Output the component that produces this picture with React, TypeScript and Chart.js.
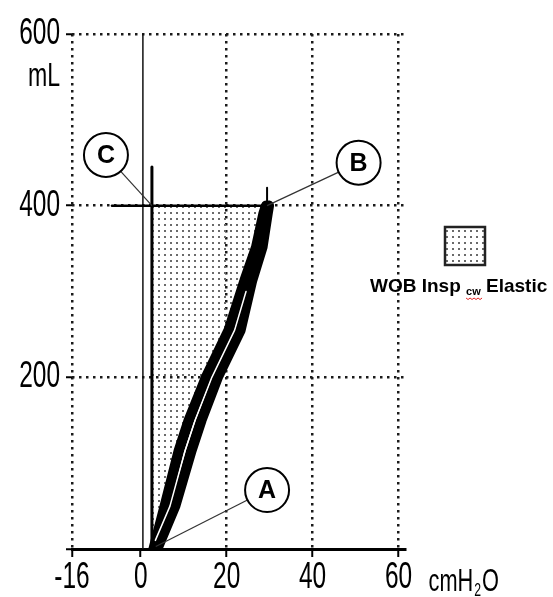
import React, { useEffect, useRef } from 'react';
import { Chart, registerables } from 'chart.js';

Chart.register(...registerables);

// ---------- data ----------
const xTicks = [-16, 0, 20, 40, 60];
const yTicks = [0, 200, 400, 600];
const xUnitMain = 'cmH';
const xUnitSub = '2';
const xUnitEnd = 'O';
const yUnit = 'mL';

// volume levels (mL) of the pressure-volume loop
const loopVolumes = [0, 50, 115, 150, 200, 255, 313, 352, 391, 400];
// pressure (cmH2O) of the left (inspiratory) limb
const inspLimbP = [3, 5.6, 8.9, 11.2, 15.2, 20.5, 24.2, 26.9, 28.6, 29.2];
// pressure (cmH2O) of the right (expiratory) limb
const expLimbP = [3.8, 8.0, 11.8, 14.1, 17.9, 23.2, 25.9, 28.3, 29.5, 29.8];
// thin white separation between the limbs
const gapVolumes = [10, 50, 115, 150, 200, 255, 300];
const gapP = [3.4, 6.8, 10.35, 12.65, 16.55, 21.85, 24.5];

const chestWallP = 2.6; // left boundary of the shaded work area
const chestWallTopV = 445;
const zeroLineP = 0.5;
const zeroLineTopV = 600;
const endInspV = 400;
const endInspP = 29.4;
const endMarkTopV = 421;
const plateauStartP = -6.7;

const callouts = [
  { text: 'A', x: 29.4, y: 68.7, tx: 3.5, ty: 3 },
  { text: 'B', x: 50.7, y: 450, tx: 29.4, ty: 400 },
  { text: 'C', x: -8.1, y: 459, tx: 2.6, ty: 400 },
];

const legendMain = 'WOB Insp ';
const legendSub = 'cw';
const legendEnd = ' Elastic';

// ---------- helpers ----------
const ARIAL = 'Arial, "Liberation Sans", Helvetica, sans-serif';
const SQUEEZE = 0.68;

function makeStipple(): CanvasPattern | string {
  const c = document.createElement('canvas');
  c.width = 6;
  c.height = 6;
  const g = c.getContext('2d');
  if (!g) return '#ccc';
  g.fillStyle = '#6a6a6a';
  g.fillRect(2, 2, 2, 2);
  return g.createPattern(c, 'repeat') || '#ccc';
}

function narrowText(
  ctx: CanvasRenderingContext2D,
  text: string,
  x: number,
  y: number,
  size: number,
  align: CanvasTextAlign,
): number {
  ctx.save();
  ctx.font = `${size}px ${ARIAL}`;
  ctx.textAlign = align;
  ctx.textBaseline = 'alphabetic';
  ctx.fillStyle = '#000';
  ctx.translate(x, y);
  ctx.scale(SQUEEZE, 1);
  ctx.fillText(text, 0, 0);
  const w = ctx.measureText(text).width * SQUEEZE;
  ctx.restore();
  return w;
}

const pts = (xs: number[], ys: number[]) => xs.map((x, i) => ({ x, y: ys[i] }));

export default function App() {
  const ref = useRef<HTMLCanvasElement>(null);

  useEffect(() => {
    const canvas = ref.current;
    if (!canvas) return;
    const stipple = makeStipple();

    const inspPts = pts(inspLimbP, loopVolumes);
    const expPts = pts(expLimbP, loopVolumes);
    const gapPts = pts(gapP, gapVolumes);
    const shadePts = [
      { x: chestWallP, y: 0 },
      { x: chestWallP, y: endInspV },
      { x: endInspP, y: endInspV },
      ...inspPts.slice().reverse(),
    ];

    const overlay = {
      id: 'overlay',
      afterDraw(chart: any) {
        const { ctx, chartArea, scales } = chart;
        const x = scales.x;
        const y = scales.y;
        ctx.save();
        // tick labels
        for (const v of xTicks) {
          narrowText(ctx, String(v), x.getPixelForValue(v), chartArea.bottom + 39, 36, 'center');
        }
        for (const v of yTicks) {
          if (v === 0) continue;
          narrowText(ctx, String(v), chartArea.left - 12, y.getPixelForValue(v) + 10, 36, 'right');
        }
        // units
        narrowText(ctx, yUnit, chartArea.left - 12, chartArea.top + 52, 34, 'right');
        let ux = x.getPixelForValue(60) + 30;
        const ub = chartArea.bottom + 42;
        ux += narrowText(ctx, xUnitMain, ux, ub, 32, 'left') + 1;
        ux += narrowText(ctx, xUnitSub, ux, ub + 5, 18, 'left') + 1;
        narrowText(ctx, xUnitEnd, ux, ub, 32, 'left');

        // callouts
        const R = 22;
        for (const c of callouts) {
          const cx = x.getPixelForValue(c.x);
          const cy = y.getPixelForValue(c.y);
          const tx = x.getPixelForValue(c.tx);
          const ty = y.getPixelForValue(c.ty);
          const ang = Math.atan2(ty - cy, tx - cx);
          ctx.beginPath();
          ctx.moveTo(cx + R * Math.cos(ang), cy + R * Math.sin(ang));
          ctx.lineTo(tx, ty);
          ctx.strokeStyle = '#333';
          ctx.lineWidth = 1.2;
          ctx.stroke();
          ctx.beginPath();
          ctx.arc(cx, cy, R, 0, Math.PI * 2);
          ctx.fillStyle = '#fff';
          ctx.fill();
          ctx.lineWidth = 2;
          ctx.strokeStyle = '#000';
          ctx.stroke();
          ctx.fillStyle = '#000';
          ctx.font = `bold 25px ${ARIAL}`;
          ctx.textAlign = 'center';
          ctx.textBaseline = 'middle';
          ctx.fillText(c.text, cx, cy + 1);
        }

        // legend
        const bx = 445, by = 227, bw = 40, bh = 38;
        ctx.fillStyle = stipple as any;
        ctx.fillRect(bx, by, bw, bh);
        ctx.lineWidth = 2.5;
        ctx.strokeStyle = '#222';
        ctx.strokeRect(bx, by, bw, bh);
        let lx = 370;
        const lb = 292;
        ctx.textAlign = 'left';
        ctx.textBaseline = 'alphabetic';
        ctx.fillStyle = '#000';
        ctx.font = `bold 19px ${ARIAL}`;
        ctx.fillText(legendMain, lx, lb);
        lx += ctx.measureText(legendMain).width;
        ctx.font = `bold 11px ${ARIAL}`;
        const sw = ctx.measureText(legendSub).width;
        ctx.fillText(legendSub, lx, lb + 3);
        ctx.beginPath();
        ctx.strokeStyle = '#e02020';
        ctx.lineWidth = 1;
        for (let i = 0; i <= Math.ceil(sw / 2); i++) {
          const px = lx + i * 2;
          const py = lb + 6 + (i % 2 === 0 ? 0 : 1.5);
          if (i === 0) ctx.moveTo(px, py);
          else ctx.lineTo(px, py);
        }
        ctx.stroke();
        lx += sw;
        ctx.fillStyle = '#000';
        ctx.font = `bold 19px ${ARIAL}`;
        ctx.fillText(legendEnd, lx, lb);
        ctx.restore();
      },
    };

    const line = (data: any[], color: string, width: number) => ({
      data,
      showLine: true,
      borderColor: color,
      borderWidth: width,
      pointRadius: 0,
      fill: false,
      borderCapStyle: 'round',
      borderJoinStyle: 'round',
    });

    const chart = new Chart(canvas, {
      type: 'scatter',
      data: {
        datasets: [
          line(gapPts, '#ffffff', 1.5),
          line(inspPts, '#000', 10.5),
          line(expPts, '#000', 10.5),
          line([{ x: endInspP, y: endInspV }, { x: endInspP, y: endMarkTopV }], '#000', 2),
          line([{ x: plateauStartP, y: endInspV }, { x: endInspP, y: endInspV }], '#000', 2.5),
          line([{ x: chestWallP, y: 0 }, { x: chestWallP, y: chestWallTopV }], '#000', 3),
          line([{ x: zeroLineP, y: 0 }, { x: zeroLineP, y: zeroLineTopV }], '#111', 1.5),
          {
            data: shadePts,
            showLine: true,
            borderWidth: 0,
            borderColor: 'rgba(0,0,0,0)',
            backgroundColor: stipple,
            pointRadius: 0,
            fill: 'shape',
          },
        ] as any,
      },
      options: {
        responsive: false,
        devicePixelRatio: 1,
        animation: false,
        events: [],
        layout: { padding: { top: 34, right: 148, left: 0, bottom: 0 } },
        plugins: { legend: { display: false }, tooltip: { enabled: false } },
        scales: {
          x: {
            type: 'linear',
            min: -16,
            max: 61.5,
            afterBuildTicks: (s: any) => {
              s.ticks = xTicks.map((v) => ({ value: v }));
            },
            afterFit: (s: any) => {
              s.height = 48;
            },
            ticks: { display: false, autoSkip: false },
            grid: {
              color: (c: any) => (c.tick && c.tick.value === 0 ? 'rgba(0,0,0,0)' : '#1a1a1a'),
              lineWidth: 2.5,
              tickColor: '#000',
              tickWidth: 2,
              tickLength: 8,
              tickBorderDash: [],
            },
            border: { display: true, color: '#000', width: 3, dash: [2.5, 4.5] },
          },
          y: {
            type: 'linear',
            min: 0,
            max: 600,
            afterBuildTicks: (s: any) => {
              s.ticks = yTicks.map((v) => ({ value: v }));
            },
            afterFit: (s: any) => {
              s.width = 72;
            },
            ticks: { display: false, autoSkip: false },
            grid: {
              color: (c: any) => (c.tick && c.tick.value === 0 ? 'rgba(0,0,0,0)' : '#1a1a1a'),
              lineWidth: 2.5,
              tickColor: '#000',
              tickWidth: 2,
              tickLength: 6,
              tickBorderDash: [],
            },
            border: { display: false, dash: [2.5, 4.5] },
          },
        },
      } as any,
      plugins: [overlay],
    });

    return () => chart.destroy();
  }, []);

  return (
    <div style={{ position: 'fixed', left: 0, top: 0, width: 553, height: 597, background: '#fff' }}>
      <canvas ref={ref} width={553} height={597} style={{ display: 'block', width: 553, height: 597 }} />
    </div>
  );
}
